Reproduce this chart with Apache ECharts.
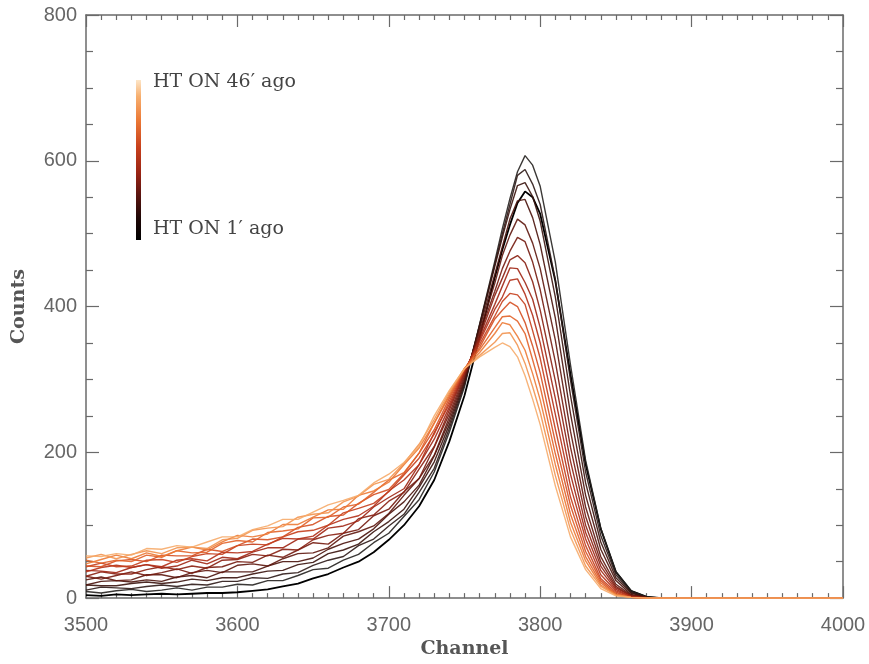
<!DOCTYPE html>
<html>
<head>
<meta charset="utf-8">
<script src="https://cdn.jsdelivr.net/npm/echarts@6/dist/echarts.min.js"></script>
<style>
  html, body { margin: 0; padding: 0; background: #ffffff; }
  #chart { width: 869px; height: 664px; }
</style>
</head>
<body>
<div id="chart"></div>
<script>
// Channel positions at which each spectrum is sampled
const channels = [3500, 3510, 3520, 3530, 3540, 3550, 3560, 3570, 3580, 3590, 3600, 3610, 3620,
                  3630, 3640, 3650, 3660, 3670, 3680, 3690, 3700, 3710, 3720, 3730, 3740,
                  3750, 3760, 3770, 3775, 3780, 3785, 3790, 3795, 3800, 3810, 3820, 3830, 3840,
                  3850, 3860, 3870, 3880, 3940, 4000];

// Spectra, from the most recent (HT ON 1' ago) to the oldest (HT ON 46' ago)
const spectrum00 = [4, 3, 5, 4, 5, 6, 5, 6, 7, 7, 8, 10, 12, 16, 20, 27, 33, 42, 50, 63, 80, 100, 126, 162, 215,
                    278, 358, 440, 478, 512, 542, 558, 550, 527, 435, 307, 184, 95, 36, 10, 2, 0, 0, 0];
const spectrum01 = [9, 7, 10, 12, 9, 11, 14, 11, 15, 15, 19, 18, 24, 24, 31, 39, 41, 52, 60, 76, 89, 112, 135, 173, 228,
                    290, 376, 462, 507, 548, 585, 607, 594, 565, 461, 320, 189, 96, 36, 10, 2, 0, 0, 0];
const spectrum02 = [11, 15, 14, 13, 16, 18, 16, 19, 18, 23, 23, 28, 27, 33, 35, 45, 52, 57, 72, 81, 99, 115, 145, 178, 233,
                    293, 375, 458, 500, 540, 580, 588, 568, 540, 437, 299, 173, 86, 32, 8, 1, 0, 0, 0];
const spectrum03 = [18, 17, 17, 20, 22, 20, 22, 26, 24, 28, 28, 33, 37, 38, 46, 49, 61, 66, 74, 91, 105, 122, 152, 187, 238,
                    296, 374, 455, 495, 533, 566, 570, 551, 517, 413, 278, 158, 77, 28, 7, 1, 0, 0, 0];
const spectrum04 = [18, 23, 24, 22, 25, 23, 29, 31, 28, 36, 36, 36, 44, 50, 50, 55, 67, 75, 81, 95, 115, 132, 155, 195, 243,
                    299, 370, 444, 482, 520, 545, 547, 522, 485, 384, 253, 141, 67, 24, 5, 1, 0, 0, 0];
const spectrum05 = [25, 29, 24, 25, 32, 32, 28, 35, 38, 35, 45, 47, 44, 54, 61, 62, 69, 85, 91, 99, 116, 141, 164, 196, 248,
                    302, 366, 432, 470, 498, 520, 512, 487, 452, 354, 229, 125, 57, 19, 4, 1, 0, 0, 0];
const spectrum06 = [30, 26, 31, 36, 31, 35, 40, 34, 42, 43, 50, 49, 59, 56, 66, 76, 74, 89, 94, 113, 122, 146, 164, 207, 253,
                    305, 362, 421, 452, 476, 495, 489, 461, 423, 324, 207, 112, 50, 16, 3, 1, 0, 0, 0];
const spectrum07 = [30, 36, 33, 33, 39, 43, 39, 44, 41, 52, 53, 60, 58, 67, 66, 80, 86, 89, 109, 114, 133, 145, 177, 208, 258,
                    308, 358, 415, 439, 464, 470, 460, 434, 395, 298, 188, 100, 44, 14, 3, 0, 0, 0, 0];
const spectrum08 = [38, 37, 35, 42, 46, 41, 44, 52, 47, 56, 54, 63, 69, 69, 81, 81, 96, 99, 106, 125, 138, 150, 183, 218, 262,
                    310, 355, 403, 428, 453, 452, 433, 410, 371, 274, 170, 90, 38, 12, 2, 0, 0, 0, 0];
const spectrum09 = [36, 42, 45, 42, 46, 43, 52, 54, 51, 63, 62, 64, 74, 82, 81, 85, 100, 108, 113, 126, 147, 162, 183, 227, 266,
                    312, 352, 396, 413, 436, 438, 417, 388, 350, 252, 154, 81, 32, 10, 2, 0, 0, 0, 0];
const spectrum10 = [43, 48, 43, 44, 52, 53, 49, 57, 61, 60, 72, 74, 73, 84, 91, 93, 100, 117, 123, 130, 146, 169, 192, 225, 270,
                    313, 348, 387, 407, 418, 416, 403, 367, 329, 232, 139, 72, 27, 8, 1, 0, 0, 0, 0];
const spectrum11 = [44, 43, 51, 53, 50, 59, 58, 58, 67, 64, 72, 81, 80, 84, 97, 101, 112, 114, 130, 142, 149, 171, 199, 231, 274,
                    314, 344, 383, 395, 406, 400, 378, 346, 309, 214, 127, 64, 24, 6, 1, 0, 0, 0, 0];
const spectrum12 = [52, 48, 52, 50, 59, 56, 65, 62, 63, 75, 79, 77, 90, 92, 95, 110, 111, 125, 129, 145, 162, 172, 199, 240, 277,
                    315, 341, 371, 386, 387, 380, 363, 327, 290, 198, 115, 57, 21, 5, 1, 0, 0, 0, 0];
const spectrum13 = [47, 53, 59, 54, 62, 57, 65, 70, 66, 77, 86, 84, 88, 101, 101, 111, 121, 122, 141, 147, 159, 183, 206, 240, 280,
                    315, 337, 363, 378, 375, 359, 340, 308, 272, 183, 104, 51, 18, 5, 1, 0, 0, 0, 0];
const spectrum14 = [55, 60, 54, 60, 65, 61, 69, 70, 68, 80, 82, 93, 96, 98, 111, 115, 117, 132, 140, 156, 163, 185, 211, 245, 283,
                    315, 333, 351, 363, 364, 347, 322, 290, 255, 168, 94, 44, 16, 4, 1, 0, 0, 0, 0];
const spectrum15 = [58, 57, 61, 59, 68, 67, 72, 70, 77, 84, 84, 94, 99, 108, 108, 118, 128, 134, 141, 158, 170, 186, 208, 250, 285,
                    315, 331, 344, 350, 345, 331, 305, 273, 238, 154, 84, 39, 13, 3, 1, 0, 0, 0, 0];

const spectra = [spectrum00, spectrum01, spectrum02, spectrum03, spectrum04, spectrum05,
                 spectrum06, spectrum07, spectrum08, spectrum09, spectrum10, spectrum11,
                 spectrum12, spectrum13, spectrum14, spectrum15];

// Line colours: black (recent) through dark red and orange to pale orange (old)
const lineColors = ['#000000', '#262220', '#2e1a17', '#3a130d', '#4a130c', '#5e170e',
                    '#741b10', '#8a2012', '#a02614', '#b33018', '#c53e1c', '#d55022',
                    '#e2632a', '#ec7a36', '#f29350', '#f6ab6a'];

// Axis ranges and tick steps
const xTicks = { min: 3500, max: 4000, interval: 100 };
const yTicks = { min: 0, max: 800, interval: 200 };

const axisColor = '#6a6a6a';
const labelFont = { fontFamily: 'Liberation Sans', fontSize: 20, color: '#666666' };
const titleFont = { fontFamily: 'DejaVu Serif', fontWeight: 'bold', fontSize: 19, color: '#555555' };

const series = spectra.map((vals, i) => ({
  type: 'line',
  xAxisIndex: 0,
  yAxisIndex: 0,
  data: channels.map((c, j) => [c, vals[j]]),
  showSymbol: false,
  smooth: false,
  silent: true,
  z: 2 + i,
  lineStyle: { color: lineColors[i], width: i === 0 ? 1.8 : 1.4, opacity: i === 0 ? 1 : 0.9 },
  animation: false
}));

function xAxisDef(pos, showLabel) {
  return {
    type: 'value', position: pos, min: xTicks.min, max: xTicks.max, interval: xTicks.interval,
    axisLine: { show: true, onZero: false, lineStyle: { color: axisColor, width: 1.5 } },
    axisTick: { show: true, inside: true, length: 12, lineStyle: { color: axisColor, width: 1.2 } },
    minorTick: { show: true, splitNumber: 10, length: 5, lineStyle: { color: axisColor, width: 1.2 } },
    splitLine: { show: false },
    axisLabel: Object.assign({ show: showLabel, margin: 17, formatter: v => String(v) }, labelFont)
  };
}
function yAxisDef(pos, showLabel) {
  return {
    type: 'value', position: pos, min: yTicks.min, max: yTicks.max, interval: yTicks.interval,
    axisLine: { show: true, onZero: false, lineStyle: { color: axisColor, width: 1.5 } },
    axisTick: { show: true, inside: true, length: 13, lineStyle: { color: axisColor, width: 1.2 } },
    minorTick: { show: true, splitNumber: 4, length: 7, lineStyle: { color: axisColor, width: 1.2 } },
    splitLine: { show: false },
    axisLabel: Object.assign({ show: showLabel, margin: 9, formatter: v => String(v) }, labelFont)
  };
}

const xBottom = Object.assign(xAxisDef('bottom', true), {
  name: 'Channel', nameLocation: 'middle', nameGap: 40, nameTextStyle: titleFont
});
const yLeft = Object.assign(yAxisDef('left', true), {
  name: 'Counts', nameLocation: 'middle', nameGap: 57, nameRotate: 90, nameTextStyle: titleFont
});

const chart = echarts.init(document.getElementById('chart'), null, { renderer: 'canvas' });
chart.setOption({
  backgroundColor: '#ffffff',
  animation: false,
  grid: { left: 86, right: 26, top: 15, bottom: 58, containLabel: false },
  xAxis: [xBottom, xAxisDef('top', false)],
  yAxis: [yLeft, yAxisDef('right', false)],
  series: series,
  graphic: [
    {
      type: 'rect', left: 136, top: 80, z: 100,
      shape: { width: 5, height: 160 },
      style: {
        fill: new echarts.graphic.LinearGradient(0, 0, 0, 1, [
          { offset: 0, color: '#fde6c8' },
          { offset: 0.1, color: '#f7b070' },
          { offset: 0.25, color: '#ec7a36' },
          { offset: 0.42, color: '#c8401c' },
          { offset: 0.58, color: '#9a2414' },
          { offset: 0.72, color: '#5a1410' },
          { offset: 0.86, color: '#200806' },
          { offset: 1, color: '#000000' }
        ])
      }
    },
    {
      type: 'text', left: 153, top: 73, z: 100,
      style: { text: 'HT ON 46′ ago', font: '19px "DejaVu Serif"', fill: '#444444' }
    },
    {
      type: 'text', left: 153, top: 220, z: 100,
      style: { text: 'HT ON 1′ ago', font: '19px "DejaVu Serif"', fill: '#444444' }
    }
  ]
});
</script>
</body>
</html>
